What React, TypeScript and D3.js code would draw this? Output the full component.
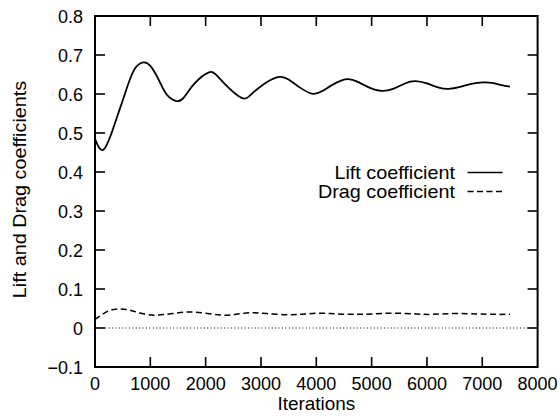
import React from "react";
import * as d3 from "d3";

const liftIter = [0, 75, 150, 220, 300, 420, 540, 700, 870, 1000, 1150, 1300, 1470, 1600, 1800, 2050, 2200, 2400, 2650, 2800, 3000, 3300, 3500, 3700, 3920, 4100, 4300, 4550, 4750, 4950, 5180, 5400, 5600, 5790, 6000, 6200, 6390, 6600, 6800, 7020, 7200, 7350, 7500];
const liftVal = [0.485, 0.462, 0.457, 0.472, 0.5, 0.55, 0.6, 0.66, 0.681, 0.672, 0.637, 0.598, 0.582, 0.59, 0.627, 0.655, 0.648, 0.618, 0.59, 0.596, 0.62, 0.643, 0.637, 0.617, 0.601, 0.607, 0.624, 0.638, 0.631, 0.617, 0.608, 0.614, 0.627, 0.633, 0.627, 0.617, 0.613, 0.618, 0.626, 0.63, 0.628, 0.623, 0.619];

const dragIter = [0, 100, 250, 450, 650, 850, 1100, 1400, 1700, 2000, 2300, 2550, 2800, 3100, 3500, 3800, 4100, 4400, 4700, 5000, 5400, 5800, 6100, 6500, 6900, 7200, 7500];
const dragVal = [0.022, 0.032, 0.044, 0.049, 0.045, 0.037, 0.033, 0.037, 0.041, 0.038, 0.033, 0.035, 0.039, 0.037, 0.034, 0.036, 0.038, 0.036, 0.035, 0.036, 0.038, 0.036, 0.035, 0.037, 0.036, 0.035, 0.035];

const xTicks = [0, 1000, 2000, 3000, 4000, 5000, 6000, 7000, 8000];
const yTicks = [-0.1, 0, 0.1, 0.2, 0.3, 0.4, 0.5, 0.6, 0.7, 0.8];

const W = 560, H = 420;
const L = 95, R = 537.6, T = 16, B = 367;
const FONT = "'Liberation Sans', Arial, sans-serif";

export default function App() {
  const x = d3.scaleLinear().domain([0, 8000]).range([L, R]);
  const y = d3.scaleLinear().domain([-0.1, 0.8]).range([B, T]);
  const line = d3.line<[number, number]>().x(d => x(d[0])).y(d => y(d[1])).curve(d3.curveNatural);
  const liftPath = line(liftIter.map((v, i) => [v, liftVal[i]] as [number, number])) || "";
  const dragPath = line(dragIter.map((v, i) => [v, dragVal[i]] as [number, number])) || "";
  const tl = 10;
  return (
    <svg width={W} height={H} style={{ position: "absolute", left: 0, top: 0, background: "#fff" }}>
      <g fontFamily={FONT} fontSize={18} fill="#000">
        <line x1={x(0)} x2={x(8000)} y1={y(0)} y2={y(0)} stroke="#000" strokeWidth={1.2} strokeDasharray="1,2.4" />
        <path d={liftPath} fill="none" stroke="#000" strokeWidth={1.8} />
        <path d={dragPath} fill="none" stroke="#000" strokeWidth={1.5} strokeDasharray="6,3.5" />
        {xTicks.slice(1, -1).map(t => (
          <g key={"xt" + t}>
            <line x1={x(t)} x2={x(t)} y1={B} y2={B - tl} stroke="#000" strokeWidth={1.6} />
            <line x1={x(t)} x2={x(t)} y1={T} y2={T + tl} stroke="#000" strokeWidth={1.6} />
          </g>
        ))}
        {yTicks.slice(1, -1).map(t => (
          <g key={"yt" + t}>
            <line x1={L} x2={L + tl} y1={y(t)} y2={y(t)} stroke="#000" strokeWidth={1.6} />
            <line x1={R} x2={R - tl} y1={y(t)} y2={y(t)} stroke="#000" strokeWidth={1.6} />
          </g>
        ))}
        <rect x={L} y={T} width={R - L} height={B - T} fill="none" stroke="#000" strokeWidth={2} />
        {xTicks.map(t => (
          <text key={"xl" + t} x={x(t)} y={390} textAnchor="middle">{t}</text>
        ))}
        {yTicks.map(t => (
          <text key={"yl" + t} x={83} y={y(t) + 7} textAnchor="end">{t === 0 ? "0" : d3.format(".1f")(t)}</text>
        ))}
        <text transform={`translate(${(L + R) / 2},410) scale(1.08,1)`} textAnchor="middle" fontSize={17.5}>Iterations</text>
        <text transform={`translate(26,${(T + B) / 2 - 2}) rotate(-90) scale(1.1,1)`} textAnchor="middle">Lift and Drag coefficients</text>
        <text transform="translate(455,179) scale(1.1,1)" textAnchor="end">Lift coefficient</text>
        <line x1={467.5} x2={502.5} y1={172.5} y2={172.5} stroke="#000" strokeWidth={1.5} />
        <text transform="translate(455,198) scale(1.1,1)" textAnchor="end">Drag coefficient</text>
        <line x1={467.5} x2={502.5} y1={191.5} y2={191.5} stroke="#000" strokeWidth={1.5} strokeDasharray="6,3.5" />
      </g>
    </svg>
  );
}
